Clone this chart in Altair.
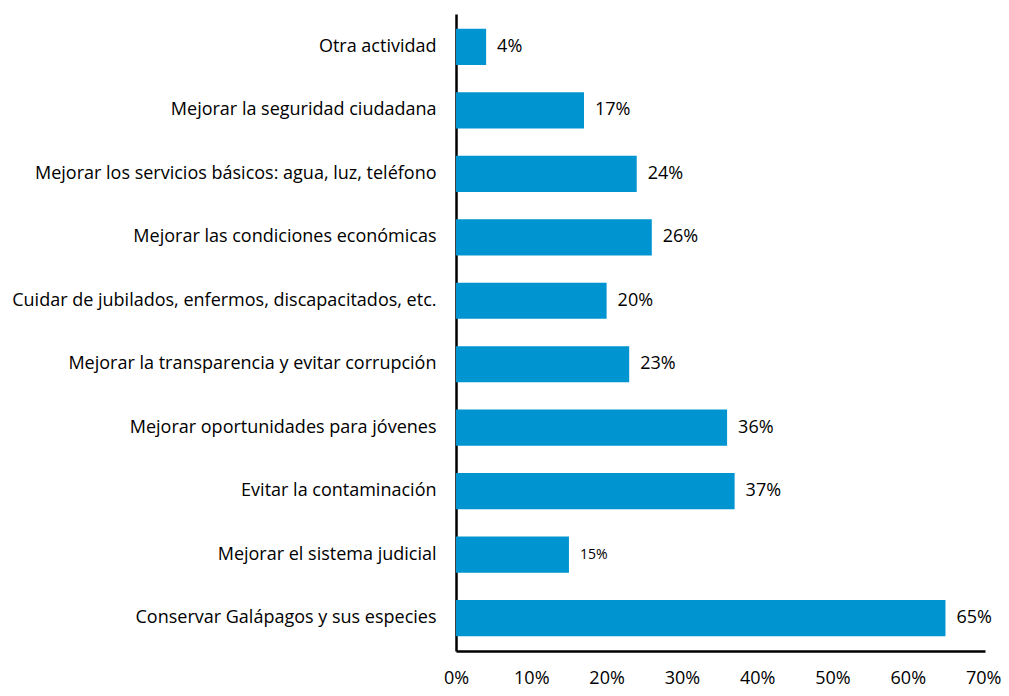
import altair as alt
import pandas as pd

categories = [
    "Otra actividad",
    "Mejorar la seguridad ciudadana",
    "Mejorar los servicios básicos: agua, luz, teléfono",
    "Mejorar las condiciones económicas",
    "Cuidar de jubilados, enfermos, discapacitados, etc.",
    "Mejorar la transparencia y evitar corrupción",
    "Mejorar oportunidades para jóvenes",
    "Evitar la contaminación",
    "Mejorar el sistema judicial",
    "Conservar Galápagos y sus especies",
]
values = [4, 17, 24, 26, 20, 23, 36, 37, 15, 65]
label_sizes = [18, 18, 18, 18, 18, 18, 18, 18, 14, 18]

df = pd.DataFrame({
    "cat": categories,
    "val": [v / 100 for v in values],
    "label": [f"{v}%" for v in values],
    "fs": label_sizes,
})

FONT = "Open Sans"

y = alt.Y("cat:N", sort=categories, title=None,
          scale=alt.Scale(paddingInner=0.43, paddingOuter=0.233),
          axis=alt.Axis(domainColor="black", domainWidth=2.5, ticks=False,
                        labelFontSize=18, labelFont=FONT, labelColor="black",
                        labelPadding=20, labelLimit=500))
x = alt.X("val:Q", title=None,
          scale=alt.Scale(domain=[0, 0.7025], nice=False),
          axis=alt.Axis(format=".0%", values=[0, 0.1, 0.2, 0.3, 0.4, 0.5, 0.6, 0.7],
                        grid=False, ticks=False, domainColor="black", domainWidth=2.5,
                        labelFontSize=18, labelFont=FONT, labelColor="black",
                        labelPadding=18, labelFlush=False))

bars = alt.Chart(df).mark_bar(color="#0095D0").encode(x=x, y=y)
text = alt.Chart(df).mark_text(align="left", dx=11, font=FONT, color="black").encode(
    x=alt.X("val:Q"), y=alt.Y("cat:N", sort=categories), text="label:N",
    size=alt.Size("fs:Q", scale=None, legend=None))

chart = (bars + text).properties(
    width=529, height=637,
    autosize=alt.AutoSizeParams(type="none"),
    padding={"left": 448, "top": 6, "right": 16, "bottom": 40},
).configure_view(stroke=None)

chart.save("out.html", embed_options={"renderer": "svg", "actions": False})
